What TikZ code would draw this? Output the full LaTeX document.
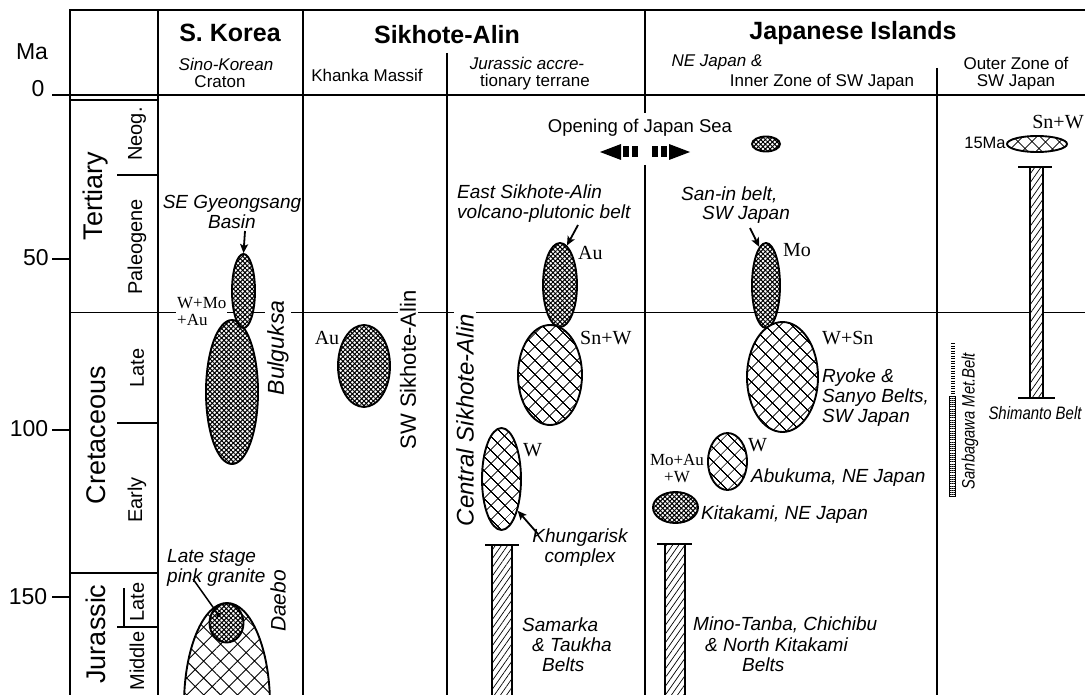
\documentclass[tikz,border=0pt]{standalone}
\usepackage{fontspec}
\setmainfont{Liberation Serif}
\setsansfont{Liberation Sans}
\usetikzlibrary{patterns.meta,arrows.meta,shapes.geometric}
\newcommand\fsz[2]{\fontsize{#1}{#2}\selectfont}
\begin{document}
\begin{tikzpicture}[x=1pt,y=-1pt,
  frm/.style={line width=2.2pt},
  mid/.style={line width=1.5pt},
  dense/.style={ellipse, draw, line width=1.9pt, inner sep=0pt, preaction={fill=white}, pattern={Hatch[angle=45,distance=3.3pt,line width=1pt]}},
  coarse/.style={ellipse, draw, line width=1.9pt, inner sep=0pt, preaction={fill=white}, pattern={Hatch[angle=45,distance=10.5pt,line width=0.9pt]}},
  hbar/.style={rectangle, draw, line width=1.4pt, inner sep=0pt, preaction={fill=white}, pattern={Lines[angle=55,distance=5pt,line width=0.7pt]}},
  ttl/.style={font=\sffamily\bfseries\fsz{25}{26}},
  sub/.style={font=\sffamily\fsz{17}{18}, inner sep=1pt},
  subi/.style={font=\sffamily\itshape\fsz{17}{18}, inner sep=1pt},
  num/.style={font=\sffamily\fsz{23}{23}},
  era/.style={font=\sffamily\fsz{27}{27}, rotate=90},
  per/.style={font=\sffamily\fsz{20}{20}, rotate=90},
  lab/.style={font=\sffamily\itshape\fsz{19}{20}, inner sep=1pt},
  el/.style={font=\rmfamily\fsz{20}{20}, inner sep=1pt},
  els/.style={font=\rmfamily\fsz{17}{17}, inner sep=1pt},
  vlab/.style={rotate=90, fill=white, inner sep=2pt},
  arr/.style={line width=1.8pt, -{Stealth[length=9pt,width=8pt,inset=2pt]}},
  ]
\clip (0,0) rectangle (1085,695);
\useasboundingbox (0,0) rectangle (1085,695);
% frame
\draw[frm] (70,695) -- (70,10) -- (1085,10);
\draw[frm] (52,95) -- (1085,95);
\draw[mid] (70,100) -- (158,100);
\draw[frm] (158,10) -- (158,695);
\draw[frm] (303,10) -- (303,695);
\draw[frm] (447,53) -- (447,695);
\draw[frm] (645,10) -- (645,113);
\draw[frm] (645,165) -- (645,695);
\draw[frm] (937,68) -- (937,695);
% ticks
\draw[mid] (52,259) -- (70,259);
\draw[mid] (52,430) -- (70,430);
\draw[mid] (52,597) -- (70,597);
% time lines
\draw[mid] (70,312.5) -- (1085,312.5);
\draw[mid] (117,175) -- (158,175);
\draw[mid] (117,423) -- (158,423);
\draw[mid] (70,573) -- (158,573);
\draw[mid] (117,627) -- (158,627);
\draw[mid] (124,588) -- (124,627);
% axis labels
\node[num] (ma) at (32,52) {Ma};
\node[num] (a0) at (38,89) {0};
\node[num] (a50) at (36,258) {50};
\node[num] (a100) at (29,429) {100};
\node[num] (a150) at (28,597) {150};
\node[era] (ter) at (96,196) {Tertiary};
\node[era] (cre) at (96,435) {Cretaceous};
\node[era] (jur) at (96,634) {Jurassic};
\node[per] (neog) at (137,134) {Neog.};
\node[per] (paleo) at (137,247) {Paleogene};
\node[per] (klate) at (137,368) {Late};
\node[per] (kearly) at (137,500) {Early};
\node[per] (jlate) at (137,602) {Late};
\node[per] (jmid) at (137,661) {Middle};
% header
\node[ttl] (hk) at (230,33) {S. Korea};
\node[ttl] (hs) at (447,35) {Sikhote-Alin};
\node[ttl] (hj) at (853,33) {Japanese Islands};
\node[subi] (h1a) at (226,64) {Sino-Korean};
\node[sub] (h1b) at (220,82) {Craton};
\node[sub] (h2) at (367,75) {Khanka Massif};
\node[subi] (h3a) at (527,63) {Jurassic accre-};
\node[sub] (h3b) at (535,82) {tionary terrane};
\node[subi] (h4a) at (717,62) {NE Japan \&};
\node[sub] (h4b) at (822,82) {Inner Zone of SW Japan};
\node[sub] (h5a) at (1016,63) {Outer Zone of};
\node[sub] (h5b) at (1016,82) {SW Japan};
% S. Korea
\node[els, align=left, fill=white, anchor=west] (wmo) at (176,312) {W+Mo\\+Au};
\node[dense, minimum width=52pt, minimum height=144pt] (bulg) at (232,392) {};
\node[dense, minimum width=23pt, minimum height=74pt] (segb) at (243.5,291) {};
\node[coarse, minimum width=86pt, minimum height=204pt, pattern={Hatch[angle=45,distance=12pt,line width=0.9pt]}] (daebo) at (227,705) {};
\node[dense, minimum width=34pt, minimum height=39pt] (pink) at (226.5,623) {};
\node[lab, align=center] (segl) at (232,212) {SE Gyeongsang\\Basin};
\coordinate (sega) at (245,231);
\draw[arr] (sega) -- (segb.north);
\node[vlab, font=\sffamily\itshape\fsz{23}{23}] (bulgl) at (278,348) {Bulguksa};
\node[lab, align=left, anchor=west] (pinkl) at (166,567.5) {Late stage\\pink granite};
\coordinate (pinka) at (193,579);
\coordinate (pinkd) at (220,617);
\draw[line width=1.5pt, -{Circle[length=5pt]}] (pinka) -- (pinkd);
\node[rotate=90, inner sep=1pt, font=\sffamily\itshape\fsz{21}{21}] (daebol) at (278,601) {Daebo};
% Khanka
\node[dense, minimum width=52pt, minimum height=82pt] (khe) at (364,366) {};
\node[el] (khau) at (327,338) {Au};
\node[vlab, font=\sffamily\fsz{22}{22}] (swsa) at (408,370) {SW Sikhote-Alin};
% Jurassic accretionary terrane
\node[vlab, font=\sffamily\itshape\fsz{24}{24}] (csa) at (465,420) {Central Sikhote-Alin};
\node[lab, align=left, anchor=west] (esal) at (456,204) {East Sikhote-Alin\\volcano-plutonic belt};
\node[dense, minimum width=34pt, minimum height=84pt] (esae) at (560,285) {};
\coordinate (esaa) at (578,225);
\draw[arr] (esaa) -- (esae.80);
\node[el, anchor=west] (esau) at (577,253) {Au};
\node[coarse, minimum width=64pt, minimum height=100pt] (snwe) at (550,375) {};
\node[el, anchor=west] (snw1) at (579,338) {Sn+W};
\node[coarse, minimum width=39pt, minimum height=102pt] (khue) at (501.5,479) {};
\node[el, anchor=west] (khuw) at (522,450) {W};
\node[lab, align=center] (khul) at (580,548) {Khungarisk\\complex};
\coordinate (khua) at (538,534);
\draw[arr] (khua) -- (khue.-63);
\node[hbar, minimum width=20pt, minimum height=160pt, anchor=north] (samb) at (502,545) {};
\draw[mid] (485,545) -- (519,545);
\node[lab, anchor=west] (sam1) at (521,625) {Samarka};
\node[lab, anchor=west] (sam2) at (531,645) {\& Taukha};
\node[lab, anchor=west] (sam3) at (541,665) {Belts};
% Japan Sea opening
\node[font=\sffamily\fsz{18.5}{19}] (ojs) at (640,128) {Opening of Japan Sea};
\fill (600,152) -- (621,144) -- (621,160) -- cycle;
\fill (623,146.5) rectangle (629,157.5);
\fill (632,146.5) rectangle (638,157.5);
\fill (652,146.5) rectangle (658,157.5);
\fill (661,146.5) rectangle (667,157.5);
\fill (669,144) -- (690,152) -- (669,160) -- cycle;
\node[dense, minimum width=28pt, minimum height=15pt] (jse) at (766,144) {};
% NE Japan & Inner zone
\node[lab, anchor=west] (san1) at (680,195) {San-in belt,};
\node[lab, anchor=west] (san2) at (701,215) {SW Japan};
\node[dense, minimum width=28pt, minimum height=85pt] (moe) at (766,285.5) {};
\coordinate (sana) at (750,228);
\draw[arr] (sana) -- (moe.100);
\node[el, anchor=west] (mol) at (782,250) {Mo};
\node[coarse, minimum width=71pt, minimum height=110pt] (wsne) at (782.5,377) {};
\node[el, anchor=west] (wsnl) at (821,338) {W+Sn};
\node[lab, anchor=west, align=left] (ryo) at (821,398) {Ryoke \&\\Sanyo Belts,\\SW Japan};
\node[coarse, minimum width=39pt, minimum height=57pt] (abue) at (727.5,461.5) {};
\node[el, anchor=west] (abuw) at (747,445) {W};
\node[lab, anchor=west] (abul) at (750,478) {Abukuma, NE Japan};
\node[els, align=center] (moau) at (677,469) {Mo+Au\\+W};
\node[dense, minimum width=45pt, minimum height=31pt] (kite) at (675.5,507.5) {};
\node[lab, anchor=west] (kitl) at (700,515) {Kitakami, NE Japan};
\node[hbar, minimum width=20pt, minimum height=160pt, anchor=north] (minb) at (675,544) {};
\draw[mid] (657,544) -- (692,544);
\node[lab, anchor=west] (min1) at (692,625) {Mino-Tanba, Chichibu};
\node[lab, anchor=west] (min2) at (704,645) {\& North Kitakami};
\node[lab, anchor=west] (min3) at (741,665) {Belts};
% Outer zone
\node[el] (snw2) at (1058,122) {Sn+W};
\node[font=\sffamily\fsz{16.5}{17}, inner sep=1pt] (m15) at (985,143) {15Ma};
\node[coarse, minimum width=60pt, minimum height=16pt] (oze) at (1037,144) {};
\node[hbar, minimum width=13pt, minimum height=231pt] (shb) at (1036.5,282.5) {};
\draw[mid] (1018,167) -- (1052,167);
\draw[mid] (1018,398) -- (1055,398);
\node[font=\sffamily\itshape\fsz{18}{18}, inner sep=1pt] (shl) at (1035,413) {\scalebox{0.83}[1]{Shimanto Belt}};
\draw[line width=4pt, dash pattern=on 1pt off 1.5pt] (952.5,343) -- (952.5,396);
\node[rectangle, draw, line width=1pt, minimum width=6pt, minimum height=100pt, inner sep=0pt, pattern={Lines[angle=0,distance=2.2pt,line width=0.8pt]}] (sbb) at (952.5,446) {};
\node[rotate=90, inner sep=1pt, font=\sffamily\itshape\fsz{18}{18}] (sbl) at (970,421) {\scalebox{0.82}[1]{Sanbagawa Met.Belt}};
\end{tikzpicture}
\end{document}
